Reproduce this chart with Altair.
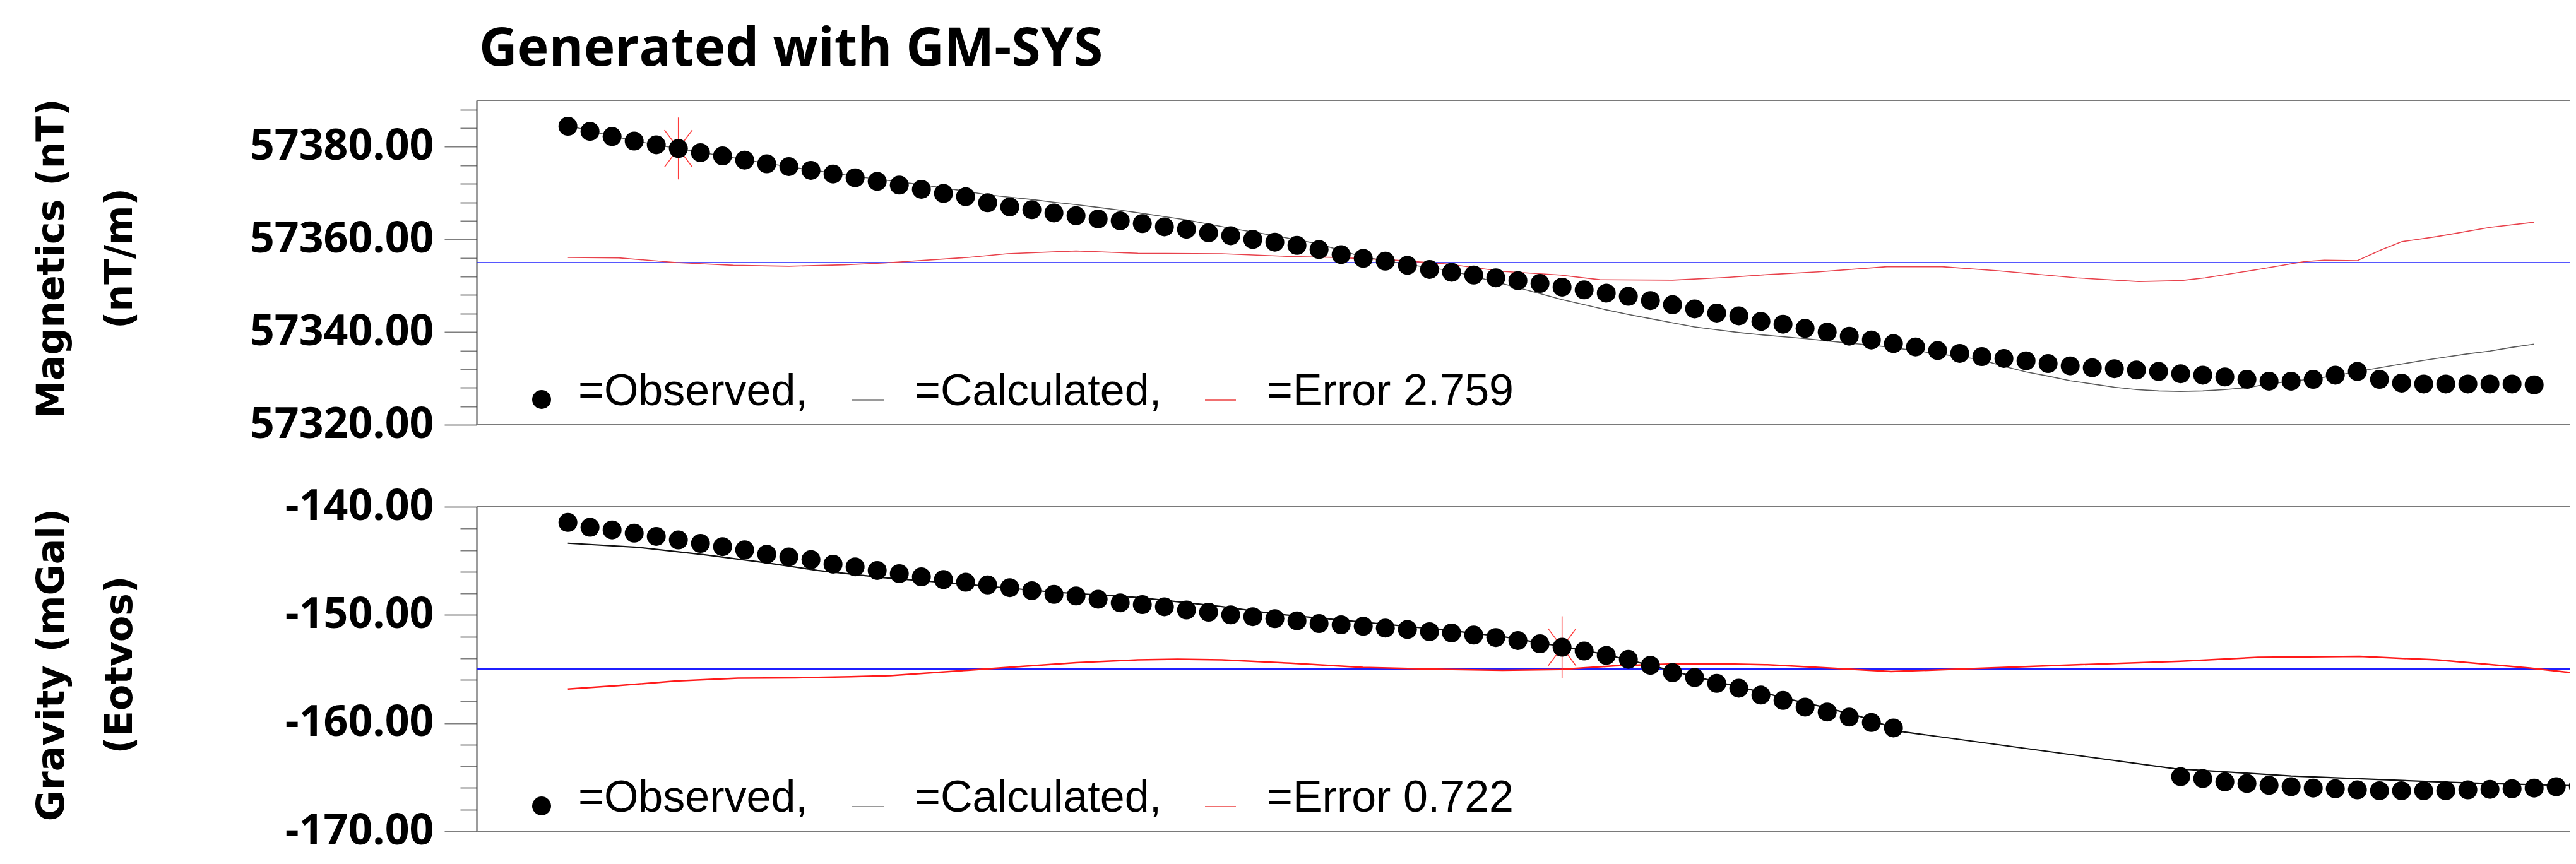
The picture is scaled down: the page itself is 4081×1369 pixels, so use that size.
import altair as alt
import pandas as pd

# ---------------- data ----------------
mag_station = list(range(90))
mag_observed = [
    57384.4, 57383.3, 57382.2, 57381.2, 57380.4, 57379.6, 57378.7, 57378.0, 57377.1, 57376.3,
    57375.7, 57374.9, 57374.1, 57373.3, 57372.5, 57371.7, 57370.8, 57369.9, 57369.2, 57367.9,
    57367.0, 57366.4, 57365.7, 57365.1, 57364.4, 57364.0, 57363.4, 57362.7, 57362.2, 57361.4,
    57360.8, 57360.0, 57359.4, 57358.7, 57357.8, 57356.7, 57355.9, 57355.3, 57354.4, 57353.5,
    57352.9, 57352.3, 57351.7, 57351.1, 57350.5, 57349.7, 57349.1, 57348.4, 57347.7, 57346.8,
    57345.9, 57345.0, 57344.1, 57343.5, 57342.3, 57341.7, 57340.8, 57340.0, 57339.1, 57338.3,
    57337.5, 57336.8, 57336.0, 57335.4, 57334.7, 57334.3, 57333.8, 57333.2, 57332.7, 57332.3,
    57332.1, 57331.8, 57331.5, 57331.0, 57330.7, 57330.3, 57329.8, 57329.4, 57329.4, 57329.8,
    57330.7, 57331.5, 57329.8, 57329.0, 57328.8, 57328.8, 57328.8, 57328.8, 57328.8, 57328.6,
]
mag_calculated = [
    57384.6, 57383.4, 57382.3, 57381.3, 57380.4, 57379.6, 57378.8, 57378.0, 57377.2, 57376.4,
    57375.7, 57375.0, 57374.3, 57373.6, 57373.0, 57372.4, 57371.8, 57371.1, 57370.4, 57369.6,
    57369.1, 57368.6, 57368.0, 57367.5, 57366.9, 57366.3, 57365.6, 57364.9, 57364.2, 57363.3,
    57362.4, 57361.6, 57360.8, 57359.9, 57359.0, 57357.6, 57356.2, 57355.4, 57354.6, 57353.9,
    57353.2, 57352.0, 57350.8, 57349.6, 57348.3, 57347.0, 57345.9, 57344.8, 57343.8, 57342.9,
    57342.0, 57341.1, 57340.5, 57339.9, 57339.4, 57339.0, 57338.6, 57338.1, 57337.6, 57337.2,
    57336.6, 57336.0, 57335.3, 57334.7, 57334.0, 57332.6, 57331.4, 57330.5, 57329.5, 57328.8,
    57328.1, 57327.6, 57327.3, 57327.2, 57327.3, 57327.6, 57328.0, 57328.8, 57329.4, 57329.9,
    57330.6, 57331.5, 57332.3, 57333.1, 57333.9, 57334.6, 57335.3, 57335.9, 57336.7, 57337.4,
]
mag_error_station = [0, 2.3, 4.9, 7.5, 10, 12.5, 14.3, 18.1, 19.9, 23, 25.8, 29.6, 32.7, 34.7,
                     37.2, 39.8, 42.3, 44.9, 46.7, 50, 52.5, 54.3, 56.6, 59.7, 62.2, 64.8, 68.3,
                     71.1, 73, 74.1, 76.5, 78.6, 79.5, 81, 82.1, 83, 84.6, 87, 89]
mag_error_value = [57356.1, 57356.0, 57355.0, 57354.4, 57354.2, 57354.5, 57354.9, 57356.1,
                   57356.9, 57357.5, 57357.0, 57356.9, 57356.3, 57356.1, 57355.6, 57354.7,
                   57353.1, 57352.3, 57351.3, 57351.2, 57351.8, 57352.4, 57353.0, 57354.1,
                   57354.1, 57353.2, 57351.7, 57350.9, 57351.1, 57351.7, 57353.5, 57355.2,
                   57355.5, 57355.4, 57357.8, 57359.5, 57360.6, 57362.6, 57363.7]

grav_station = list(range(0, 61)) + list(range(73, 92))
grav_observed = [
    -141.45, -141.90, -142.14, -142.44, -142.74, -143.07, -143.39, -143.69, -143.99, -144.39,
    -144.64, -144.89, -145.31, -145.56, -145.89, -146.18, -146.48, -146.73, -146.98, -147.23,
    -147.48, -147.76, -148.10, -148.25, -148.55, -148.88, -149.05, -149.25, -149.55, -149.75,
    -150.00, -150.17, -150.35, -150.55, -150.80, -150.92, -151.05, -151.22, -151.35, -151.55,
    -151.67, -151.87, -152.09, -152.37, -152.67, -152.99, -153.34, -153.74, -154.11, -154.66,
    -155.34, -155.79, -156.33, -156.78, -157.41, -157.91, -158.53, -158.98, -159.45, -159.95,
    -160.45,
    -164.96, -165.14, -165.44, -165.59, -165.76, -165.89, -166.01, -166.08, -166.18, -166.26,
    -166.26, -166.26, -166.26, -166.18, -166.13, -166.08, -166.01, -165.89, -165.84,
]
grav_calc_station = [0, 3.1, 6.2, 9, 11.3, 14.3, 18.1, 21.9, 25.8, 29.6, 32.1, 36, 39.8, 42.3,
                     45, 47, 49, 51, 53, 54.3, 55, 57, 58.5, 60, 60.3, 72.7, 78, 84.6, 87, 91]
grav_calc_value = [-143.37, -143.74, -144.44, -145.19, -145.89, -146.56, -147.18, -147.88,
                   -148.38, -149.23, -149.93, -150.67, -151.42, -152.0, -152.92, -153.67,
                   -154.66, -155.71, -156.66, -157.28, -157.66, -158.6, -159.4, -160.45,
                   -160.77, -164.21, -164.9, -165.44, -165.6, -165.8]
grav_error_station = [0, 2.3, 4.9, 7.7, 10.3, 12.8, 14.6, 18.1, 19.9, 23, 25.8, 27.6, 29.6,
                      32.7, 36, 38.6, 42.3, 44.9, 47.4, 50, 52.5, 54.3, 56.6, 59.9, 62.5, 68.3,
                      73, 76.5, 81.1, 84.6, 88.8, 91]
grav_error_value = [-156.86, -156.53, -156.11, -155.84, -155.81, -155.71, -155.61, -155.11,
                    -154.86, -154.41, -154.16, -154.09, -154.16, -154.46, -154.86, -154.99,
                    -155.11, -155.04, -154.71, -154.54, -154.54, -154.61, -154.86, -155.24,
                    -155.04, -154.61, -154.29, -153.92, -153.84, -154.16, -154.91, -155.41]

mag_star_station, mag_star_value = [5], [57379.6]
grav_star_station, grav_star_value = [45], [-152.99]

mag_domain = [57320, 57390]
mag_major = [57320, 57340, 57360, 57380]
mag_minor = [57324, 57328, 57332, 57336, 57344, 57348, 57352, 57356,
             57364, 57368, 57372, 57376, 57384, 57388]
grav_domain = [-170, -140]
grav_major = [-170, -160, -150, -140]
grav_minor = [-168, -166, -164, -162, -158, -156, -154, -152, -148, -146, -144, -142]

mag_title = ["Magnetics (nT)", "(nT/m)"]
grav_title = ["Gravity (mGal)", "(Eotvos)"]
mag_error_label = "=Error 2.759"
grav_error_label = "=Error 0.722"
chart_title = "Generated with GM-SYS"

# ---------------- layout / style ----------------
W, H = 3316, 514
X_DOMAIN = [-4.134, 90.609]
LEG_FONT = "Liberation Sans, Arial"
LEG_SIZE = 70
STAR = "M0,-1L0,1M-0.45,-0.6L0.45,0.6M-0.45,0.6L0.45,-0.6"


def panel(obs_x, obs_y, calc_x, calc_y, err_x, err_y, star_x, star_y, ydom, major,
          minor, title_lines, err_label, st, heading=None):
    xs = alt.Scale(domain=X_DOMAIN, nice=False, zero=False)
    ys = alt.Scale(domain=ydom, nice=False, zero=False)

    def X():
        return alt.X("d:Q", scale=xs, axis=None)

    def Y(axis=None):
        return alt.Y("v:Q", scale=ys, axis=axis)

    major_axis = alt.Axis(
        orient="left", values=major, tickSize=51, tickWidth=2, tickColor="#7f7f7f",
        domain=True, domainColor="#3a3a3a", domainWidth=2, grid=False,
        labelPadding=17, labelFont="Open Sans", labelFontSize=68, labelFontWeight="bold",
        labelColor="black", labelOverlap=False, labelLimit=1000,
        labelExpr="(datum.value < 0 ? '-' : '') + format(abs(datum.value), '.2f')",
        title=title_lines, titleFont="DejaVu Sans", titleFontSize=60,
        titleFontWeight="bold", titleColor="black", titleLineHeight=108,
        titleAngle=270, titleX=-673, titleY=250, titleAlign="center",
        titleBaseline="middle", titleLimit=2000,
    )
    minor_axis = alt.Axis(
        orient="left", values=minor, tickSize=26, tickWidth=2, tickColor="#7f7f7f",
        domain=False, labels=False, grid=False, title=None,
    )

    border = alt.Chart(pd.DataFrame({"v": ydom})).mark_rule(
        color="#7a7a7a", strokeWidth=2).encode(y=Y(minor_axis))
    mid = (ydom[0] + ydom[1]) / 2
    blue = alt.Chart(pd.DataFrame({"v": [mid]})).mark_rule(
        color="#1f1fff", strokeWidth=st["blue_w"]).encode(y=Y())
    err = alt.Chart(pd.DataFrame({"d": err_x, "v": err_y})).mark_line(
        color=st["err_c"], strokeWidth=st["err_w"], clip=True).encode(x=X(), y=Y())
    calc = alt.Chart(pd.DataFrame({"d": calc_x, "v": calc_y})).mark_line(
        color=st["calc_c"], strokeWidth=st["calc_w"], clip=True).encode(x=X(), y=Y())
    star = alt.Chart(pd.DataFrame({"d": star_x, "v": star_y})).mark_point(
        shape=STAR, size=9604, filled=False, color="#ff3b3b", strokeWidth=1.5,
        opacity=1).encode(x=X(), y=Y())
    obs = alt.Chart(pd.DataFrame({"d": obs_x, "v": obs_y})).mark_circle(
        size=900, color="black", opacity=1, clip=True).encode(x=X(), y=Y(major_axis))

    one = pd.DataFrame({"k": [0]})
    leg_dot = alt.Chart(one).mark_circle(size=900, color="black", opacity=1).encode(
        x=alt.value(103), y=alt.value(474))

    def leg_text(txt, x):
        return alt.Chart(one).mark_text(
            text=txt, align="left", baseline="alphabetic", font=LEG_FONT,
            fontSize=LEG_SIZE, color="black").encode(x=alt.value(x), y=alt.value(483))

    def leg_line(x1, x2, color):
        return alt.Chart(one).mark_rule(color=color, strokeWidth=2).encode(
            x=alt.value(x1), x2=alt.value(x2), y=alt.value(475))

    layers = [
        border, blue, err, calc, star, obs, leg_dot,
        leg_text("=Observed,", 161),
        leg_line(595, 645, "#9a9a9a"),
        leg_text("=Calculated,", 694),
        leg_line(1154, 1203, "#f07070"),
        leg_text(err_label, 1252),
    ]
    if heading is not None:
        layers.append(alt.Chart(one).mark_text(
            text=heading, align="left", baseline="alphabetic", font="Open Sans",
            fontSize=84, fontWeight="bold", color="black").encode(
            x=alt.value(4), y=alt.value(-55)))
    return alt.layer(*layers).resolve_axis(y="independent").properties(width=W, height=H)


mag = panel(mag_station, mag_observed, mag_station, mag_calculated, mag_error_station,
            mag_error_value, mag_star_station, mag_star_value, mag_domain, mag_major,
            mag_minor, mag_title, mag_error_label,
            {"blue_w": 1.5, "err_c": "#e8424c", "err_w": 1.6, "calc_c": "#5a5a5a",
             "calc_w": 1.6}, heading=chart_title)

grav = panel(grav_station, grav_observed, grav_calc_station, grav_calc_value,
             grav_error_station, grav_error_value, grav_star_station, grav_star_value,
             grav_domain, grav_major, grav_minor, grav_title, grav_error_label,
             {"blue_w": 2.5, "err_c": "#ff1a1a", "err_w": 2.5, "calc_c": "#111111",
              "calc_w": 2.2})

chart = alt.vconcat(mag, grav, spacing=130, bounds="flush").properties(
    padding={"left": 44, "top": 29, "right": 0, "bottom": 5},
    background="white",
).configure_view(stroke=None)

chart.save("out.html", embed_options={"renderer": "svg", "actions": False})
